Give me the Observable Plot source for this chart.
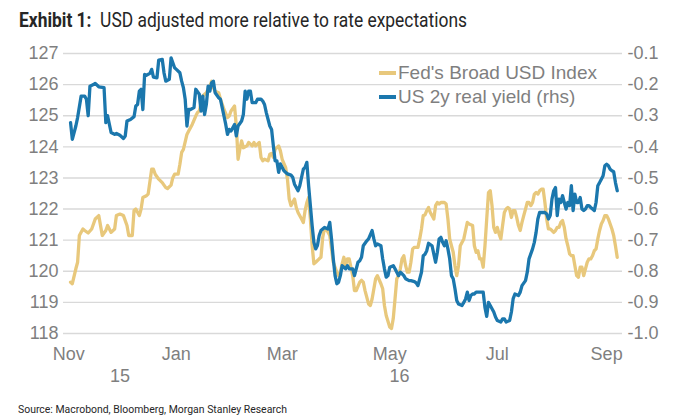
<!DOCTYPE html>
<html><head><meta charset="utf-8">
<script src="https://cdn.jsdelivr.net/npm/d3@7"></script>
<script src="https://cdn.jsdelivr.net/npm/@observablehq/plot@0.6"></script>
<style>
html,body{margin:0;padding:0;background:#fff;}
#wrap{position:relative;width:677px;height:418px;overflow:hidden;font-family:"Liberation Sans",Arial,sans-serif;}
#title{position:absolute;left:19px;top:9px;font-family:Roboto,"Liberation Sans",sans-serif;font-size:19.5px;line-height:24px;color:#262626;white-space:nowrap;transform-origin:0 0;}
#title b{font-weight:700;}
#chart{position:absolute;left:0;top:38px;}
#legend{position:absolute;left:379px;top:61px;font-size:19px;color:#7f7f7f;}
#legend .row{height:24px;line-height:24px;white-space:nowrap;}
#legend .sw{display:inline-block;width:17px;height:4px;vertical-align:middle;margin-right:2px;position:relative;top:-1px;}
#source{position:absolute;left:18px;top:403px;font-family:Roboto,"Liberation Sans",sans-serif;font-size:11px;line-height:13px;color:#262626;white-space:nowrap;transform-origin:0 0;}
</style></head>
<body><div id="wrap">
<div id="title"><b>Exhibit 1:</b>&nbsp; USD adjusted more relative to rate expectations</div>
<div id="chart"></div>
<div id="legend"></div>
<div id="source">Source: Macrobond, Bloomberg, Morgan Stanley Research</div>
</div>
<script>
// Fed's Broad USD Index (left axis)
const fedBroadUSD = [
["2015-11-02",119.65],["2015-11-03",119.6],["2015-11-05",120.08],["2015-11-06",120.29],["2015-11-07",121.15],["2015-11-09",121.36],["2015-11-10",121.31],["2015-11-12",121.23],["2015-11-14",121.36],["2015-11-16",121.68],["2015-11-18",121.79],["2015-11-20",121.15],["2015-11-22",121.31],["2015-11-23",121.47],["2015-11-25",121.25],["2015-11-27",121.36],["2015-11-28",121.79],["2015-11-30",121.84],
["2015-12-02",121.79],["2015-12-04",121.47],["2015-12-05",121.15],["2015-12-07",121.15],["2015-12-08",121.95],["2015-12-09",122.0],["2015-12-11",121.79],["2015-12-12",122.0],["2015-12-13",122.37],["2015-12-15",122.43],["2015-12-16",122.48],["2015-12-18",123.28],["2015-12-19",123.28],["2015-12-20",123.12],["2015-12-22",122.96],["2015-12-24",122.85],["2015-12-26",122.69],["2015-12-27",122.66],["2015-12-29",122.77],["2015-12-30",123.01],["2015-12-31",123.12],
["2016-01-02",123.12],["2016-01-03",123.44],["2016-01-04",123.82],["2016-01-05",123.92],["2016-01-07",124.4],["2016-01-08",124.51],["2016-01-10",124.72],["2016-01-12",124.99],["2016-01-13",125.1],["2016-01-14",125.15],["2016-01-16",125.63],["2016-01-17",125.69],["2016-01-18",125.74],["2016-01-19",125.85],["2016-01-20",125.95],["2016-01-21",126.11],["2016-01-22",125.9],["2016-01-23",125.79],["2016-01-25",125.74],["2016-01-26",125.53],["2016-01-27",125.37],["2016-01-28",125.2],["2016-01-30",124.94],["2016-01-31",124.99],
["2016-02-01",125.15],["2016-02-03",125.31],["2016-02-04",124.67],["2016-02-05",123.6],["2016-02-06",123.92],["2016-02-07",124.19],["2016-02-08",123.97],["2016-02-10",124.03],["2016-02-11",124.14],["2016-02-13",124.03],["2016-02-14",124.14],["2016-02-15",124.03],["2016-02-17",124.14],["2016-02-18",123.66],["2016-02-19",123.55],["2016-02-20",123.6],["2016-02-22",123.55],["2016-02-23",123.76],["2016-02-24",123.79],["2016-02-25",123.66],["2016-02-26",123.92],["2016-02-28",124.03],["2016-02-29",123.87],
["2016-03-01",123.6],["2016-03-03",123.33],["2016-03-04",122.96],["2016-03-05",122.32],["2016-03-06",122.11],["2016-03-08",122.32],["2016-03-09",122.05],["2016-03-10",121.89],["2016-03-12",121.68],["2016-03-13",121.57],["2016-03-14",121.95],["2016-03-15",122.21],["2016-03-16",122.37],["2016-03-17",121.68],["2016-03-18",120.83],["2016-03-19",120.24],["2016-03-20",120.29],["2016-03-22",120.4],["2016-03-23",120.45],["2016-03-24",121.09],["2016-03-25",121.38],["2016-03-26",121.36],["2016-03-28",121.15],["2016-03-29",120.72],["2016-03-30",120.29],
["2016-04-01",119.97],["2016-04-02",119.86],["2016-04-03",119.97],["2016-04-04",120.24],["2016-04-05",120.45],["2016-04-06",120.18],["2016-04-07",120.4],["2016-04-08",120.4],["2016-04-10",119.86],["2016-04-11",119.38],["2016-04-12",119.38],["2016-04-14",119.65],["2016-04-15",119.71],["2016-04-16",119.65],["2016-04-17",119.38],["2016-04-19",118.95],["2016-04-20",118.9],["2016-04-21",119.11],["2016-04-23",119.76],["2016-04-24",119.86],["2016-04-26",119.6],["2016-04-27",119.44],["2016-04-28",118.9],["2016-04-29",118.58],
["2016-05-01",118.21],["2016-05-02",118.16],["2016-05-03",118.48],["2016-05-04",119.11],["2016-05-05",119.76],["2016-05-06",119.86],["2016-05-07",120.08],["2016-05-08",120.4],["2016-05-09",120.5],["2016-05-10",120.18],["2016-05-11",119.97],["2016-05-12",119.97],["2016-05-13",120.29],["2016-05-14",120.72],["2016-05-15",120.77],["2016-05-17",120.77],["2016-05-18",121.04],["2016-05-19",121.36],["2016-05-20",121.79],["2016-05-21",121.81],["2016-05-22",121.95],["2016-05-23",122.05],["2016-05-24",121.89],["2016-05-25",121.79],["2016-05-26",121.68],["2016-05-27",122.11],["2016-05-28",122.21],["2016-05-29",122.16],["2016-05-30",122.21],
["2016-06-01",122.21],["2016-06-02",122.16],["2016-06-03",121.68],["2016-06-04",121.04],["2016-06-05",120.82],["2016-06-06",120.61],["2016-06-07",120.18],["2016-06-08",119.86],["2016-06-09",120.18],["2016-06-10",120.82],["2016-06-12",121.04],["2016-06-13",121.31],["2016-06-14",121.57],["2016-06-15",121.52],["2016-06-17",121.47],["2016-06-18",120.82],["2016-06-19",120.61],["2016-06-20",120.66],["2016-06-21",120.4],["2016-06-22",120.4],["2016-06-23",120.13],["2016-06-24",120.82],["2016-06-25",121.68],["2016-06-26",122.53],["2016-06-27",122.59],["2016-06-28",122.11],["2016-06-29",121.41],["2016-06-30",121.25],
["2016-07-01",121.41],["2016-07-02",121.2],["2016-07-03",121.04],["2016-07-04",121.47],["2016-07-05",121.89],["2016-07-06",122.0],["2016-07-07",122.05],["2016-07-08",122.0],["2016-07-09",121.73],["2016-07-10",121.95],["2016-07-11",121.95],["2016-07-12",121.73],["2016-07-13",121.47],["2016-07-14",121.31],["2016-07-15",121.57],["2016-07-16",121.79],["2016-07-17",122.0],["2016-07-18",122.21],["2016-07-19",122.21],["2016-07-20",122.11],["2016-07-21",122.21],["2016-07-22",122.48],["2016-07-23",122.53],["2016-07-24",122.48],["2016-07-25",122.59],["2016-07-26",122.64],["2016-07-27",122.64],["2016-07-28",122.21],["2016-07-29",121.68],["2016-07-30",121.36],["2016-07-31",121.36],
["2016-08-01",121.31],["2016-08-02",121.25],["2016-08-03",121.31],["2016-08-04",121.41],["2016-08-05",121.41],["2016-08-06",121.57],["2016-08-07",121.63],["2016-08-08",121.41],["2016-08-09",121.04],["2016-08-10",120.82],["2016-08-11",120.56],["2016-08-12",120.5],["2016-08-13",120.5],["2016-08-14",120.18],["2016-08-15",119.86],["2016-08-16",119.81],["2016-08-17",120.13],["2016-08-18",120.13],["2016-08-19",119.86],["2016-08-20",120.08],["2016-08-21",120.29],["2016-08-22",120.4],["2016-08-23",120.4],["2016-08-24",120.5],["2016-08-25",120.66],["2016-08-26",120.72],["2016-08-27",121.04],["2016-08-28",121.31],["2016-08-29",121.52],["2016-08-30",121.63],["2016-08-31",121.79],
["2016-09-01",121.79],["2016-09-02",121.68],["2016-09-03",121.52],["2016-09-04",121.36],["2016-09-05",121.15],["2016-09-06",120.82],["2016-09-07",120.45]
];

// US 2y real yield (right axis)
const us2yRealYield = [
["2015-11-02",-0.322],["2015-11-03",-0.376],["2015-11-05",-0.333],["2015-11-06",-0.306],["2015-11-08",-0.237],["2015-11-10",-0.237],["2015-11-11",-0.247],["2015-11-12",-0.30],["2015-11-13",-0.205],["2015-11-15",-0.20],["2015-11-16",-0.196],["2015-11-18",-0.207],["2015-11-21",-0.21],["2015-11-22",-0.322],["2015-11-23",-0.30],["2015-11-25",-0.354],["2015-11-27",-0.36],["2015-11-28",-0.357],["2015-11-30",-0.363],
["2015-12-02",-0.373],["2015-12-03",-0.365],["2015-12-04",-0.317],["2015-12-06",-0.312],["2015-12-08",-0.303],["2015-12-09",-0.269],["2015-12-10",-0.264],["2015-12-11",-0.221],["2015-12-12",-0.215],["2015-12-13",-0.28],["2015-12-14",-0.167],["2015-12-15",-0.17],["2015-12-17",-0.164],["2015-12-18",-0.151],["2015-12-19",-0.176],["2015-12-21",-0.178],["2015-12-22",-0.121],["2015-12-24",-0.119],["2015-12-25",-0.162],["2015-12-26",-0.189],["2015-12-28",-0.183],["2015-12-29",-0.114],["2015-12-31",-0.146],
["2016-01-01",-0.151],["2016-01-03",-0.162],["2016-01-04",-0.189],["2016-01-05",-0.21],["2016-01-06",-0.247],["2016-01-07",-0.333],["2016-01-08",-0.28],["2016-01-09",-0.28],["2016-01-11",-0.274],["2016-01-12",-0.215],["2016-01-14",-0.231],["2016-01-15",-0.285],["2016-01-16",-0.237],["2016-01-17",-0.296],["2016-01-18",-0.264],["2016-01-19",-0.205],["2016-01-20",-0.221],["2016-01-21",-0.194],["2016-01-22",-0.189],["2016-01-23",-0.226],["2016-01-25",-0.242],["2016-01-26",-0.247],["2016-01-27",-0.274],["2016-01-28",-0.301],["2016-01-29",-0.328],["2016-01-30",-0.36],["2016-01-31",-0.344],
["2016-02-01",-0.349],["2016-02-03",-0.328],["2016-02-04",-0.365],["2016-02-05",-0.333],["2016-02-07",-0.317],["2016-02-08",-0.296],["2016-02-09",-0.221],["2016-02-10",-0.247],["2016-02-11",-0.221],["2016-02-12",-0.221],["2016-02-13",-0.258],["2016-02-15",-0.258],["2016-02-16",-0.247],["2016-02-18",-0.247],["2016-02-19",-0.253],["2016-02-20",-0.264],["2016-02-21",-0.29],["2016-02-23",-0.333],["2016-02-24",-0.344],["2016-02-25",-0.397],["2016-02-26",-0.445],["2016-02-27",-0.445],["2016-02-28",-0.482],["2016-02-29",-0.455],
["2016-03-02",-0.477],["2016-03-04",-0.487],["2016-03-06",-0.491],["2016-03-07",-0.498],["2016-03-08",-0.52],["2016-03-10",-0.541],["2016-03-11",-0.525],["2016-03-12",-0.498],["2016-03-13",-0.472],["2016-03-14",-0.466],["2016-03-15",-0.45],["2016-03-16",-0.525],["2016-03-17",-0.589],["2016-03-18",-0.653],["2016-03-19",-0.707],["2016-03-20",-0.728],["2016-03-21",-0.717],["2016-03-22",-0.685],["2016-03-23",-0.669],["2016-03-25",-0.659],["2016-03-27",-0.664],["2016-03-28",-0.643],["2016-03-29",-0.696],["2016-03-30",-0.76],["2016-03-31",-0.814],
["2016-04-01",-0.84],["2016-04-02",-0.835],["2016-04-03",-0.814],["2016-04-04",-0.782],["2016-04-06",-0.792],["2016-04-07",-0.782],["2016-04-08",-0.792],["2016-04-10",-0.792],["2016-04-11",-0.814],["2016-04-13",-0.771],["2016-04-14",-0.766],["2016-04-15",-0.755],["2016-04-16",-0.718],["2016-04-18",-0.702],["2016-04-19",-0.696],["2016-04-21",-0.669],["2016-04-22",-0.696],["2016-04-23",-0.718],["2016-04-24",-0.712],["2016-04-26",-0.718],["2016-04-27",-0.76],["2016-04-28",-0.792],["2016-04-29",-0.819],["2016-04-30",-0.814],
["2016-05-01",-0.787],["2016-05-03",-0.782],["2016-05-04",-0.792],["2016-05-05",-0.803],["2016-05-06",-0.814],["2016-05-07",-0.803],["2016-05-08",-0.808],["2016-05-09",-0.814],["2016-05-10",-0.824],["2016-05-12",-0.83],["2016-05-13",-0.83],["2016-05-15",-0.833],["2016-05-16",-0.837],["2016-05-17",-0.846],["2016-05-19",-0.803],["2016-05-20",-0.75],["2016-05-21",-0.745],["2016-05-22",-0.734],["2016-05-23",-0.71],["2016-05-25",-0.718],["2016-05-27",-0.771],["2016-05-28",-0.739],["2016-05-29",-0.696],["2016-05-30",-0.691],["2016-05-31",-0.707],
["2016-06-01",-0.718],["2016-06-02",-0.702],["2016-06-03",-0.728],["2016-06-04",-0.76],["2016-06-05",-0.814],["2016-06-06",-0.824],["2016-06-07",-0.856],["2016-06-08",-0.894],["2016-06-09",-0.905],["2016-06-11",-0.91],["2016-06-12",-0.90],["2016-06-13",-0.889],["2016-06-14",-0.867],["2016-06-15",-0.894],["2016-06-16",-0.878],["2016-06-17",-0.873],["2016-06-18",-0.873],["2016-06-19",-0.867],["2016-06-21",-0.867],["2016-06-22",-0.867],["2016-06-23",-0.867],["2016-06-24",-0.916],["2016-06-25",-0.945],["2016-06-26",-0.90],["2016-06-27",-0.91],["2016-06-29",-0.931],["2016-06-30",-0.947],
["2016-07-01",-0.958],["2016-07-03",-0.963],["2016-07-04",-0.953],["2016-07-05",-0.953],["2016-07-06",-0.963],["2016-07-08",-0.958],["2016-07-09",-0.931],["2016-07-10",-0.888],["2016-07-11",-0.873],["2016-07-13",-0.878],["2016-07-14",-0.867],["2016-07-15",-0.846],["2016-07-17",-0.83],["2016-07-18",-0.803],["2016-07-19",-0.76],["2016-07-21",-0.728],["2016-07-22",-0.707],["2016-07-23",-0.675],["2016-07-24",-0.632],["2016-07-25",-0.611],["2016-07-26",-0.611],["2016-07-28",-0.611],["2016-07-29",-0.616],["2016-07-30",-0.632],["2016-07-31",-0.621],
["2016-08-01",-0.568],["2016-08-02",-0.541],["2016-08-03",-0.531],["2016-08-04",-0.621],["2016-08-05",-0.568],["2016-08-06",-0.579],["2016-08-07",-0.557],["2016-08-08",-0.579],["2016-08-09",-0.60],["2016-08-10",-0.579],["2016-08-11",-0.589],["2016-08-12",-0.525],["2016-08-13",-0.605],["2016-08-14",-0.552],["2016-08-15",-0.579],["2016-08-16",-0.579],["2016-08-17",-0.563],["2016-08-18",-0.60],["2016-08-19",-0.605],["2016-08-20",-0.60],["2016-08-21",-0.589],["2016-08-22",-0.589],["2016-08-23",-0.595],["2016-08-24",-0.60],["2016-08-25",-0.605],["2016-08-26",-0.579],["2016-08-27",-0.525],["2016-08-28",-0.515],["2016-08-29",-0.504],["2016-08-30",-0.493],["2016-08-31",-0.461],
["2016-09-01",-0.456],["2016-09-02",-0.461],["2016-09-03",-0.472],["2016-09-04",-0.477],["2016-09-05",-0.48],["2016-09-06",-0.515],["2016-09-07",-0.541]
];

const seriesNames = ["Fed's Broad USD Index", "US 2y real yield (rhs)"];
const seriesColors = ["#E8C87C", "#1B77AD"];
const monthTicks = ["2015-11-01","2016-01-01","2016-03-01","2016-05-01","2016-07-01","2016-09-01"];
const yearLabels = ["2015","2016"];
const leftTicks = [118,119,120,121,122,123,124,125,126,127];
const rightTicks = [-1.0,-0.9,-0.8,-0.7,-0.6,-0.5,-0.4,-0.3,-0.2,-0.1];
const xDomain = ["2015-10-29","2016-09-10"];
const leftDomain = [118,127];
const rightDomain = [-1.0,-0.1];

// map right-axis values onto the left scale (dual axis)
const toLeft = r => leftDomain[0] + (r - rightDomain[0]) * (leftDomain[1]-leftDomain[0]) / (rightDomain[1]-rightDomain[0]);
const toRight = l => rightDomain[0] + (l - leftDomain[0]) * (rightDomain[1]-rightDomain[0]) / (leftDomain[1]-leftDomain[0]);

const d0 = new Date(xDomain[0]), d1 = new Date(xDomain[1]);
const yearCenters = yearLabels.map(y => {
  const a = Math.max(+d0, Date.UTC(+y,0,1));
  const b = Math.min(+d1, Date.UTC(+y+1,0,1));
  return new Date((a+b)/2);
});

const gray = "#7f7f7f";
const chart = Plot.plot({
  width: 677,
  height: 357,
  marginTop: 15,
  marginBottom: 62,
  marginLeft: 63,
  marginRight: 55,
  style: {fontFamily: '"Liberation Sans", Arial, sans-serif', fontSize: "18px", color: gray, background: "transparent"},
  x: {type: "utc", domain: [d0, d1]},
  y: {domain: leftDomain},
  marks: [
    Plot.gridY(leftTicks, {stroke: "#d9d9d9", strokeOpacity: 1, strokeWidth: 1.4}),
    Plot.axisY(leftTicks, {anchor: "left", tickSize: 0, tickPadding: 5, tickFormat: d => String(d), fontSize: 18}),
    Plot.axisY(rightTicks.map(toLeft), {anchor: "right", tickSize: 0, tickPadding: 5, tickFormat: d => toRight(d).toFixed(1), fontSize: 18}),
    Plot.axisX(monthTicks.map(d => new Date(d)), {anchor: "bottom", tickSize: 0, tickPadding: 14, tickFormat: d3.utcFormat("%b"), fontSize: 18}),
    Plot.axisX(yearCenters, {anchor: "bottom", tickSize: 0, tickPadding: 36, tickFormat: d3.utcFormat("%y"), fontSize: 18}),
    Plot.line(fedBroadUSD, {x: d => new Date(d[0]), y: d => d[1], stroke: seriesColors[0], strokeWidth: 3.3}),
    Plot.line(us2yRealYield, {x: d => new Date(d[0]), y: d => toLeft(d[1]), stroke: seriesColors[1], strokeWidth: 3.3})
  ]
});
document.getElementById("chart").appendChild(chart);

const legend = document.getElementById("legend");
seriesNames.forEach((n, i) => {
  const row = document.createElement("div");
  row.className = "row";
  const sw = document.createElement("span");
  sw.className = "sw";
  sw.style.background = seriesColors[i];
  row.appendChild(sw);
  row.appendChild(document.createTextNode(n));
  legend.appendChild(row);
});

// fit title/source widths to the reference layout
function fit(id, w) {
  const el = document.getElementById(id);
  const cur = el.getBoundingClientRect().width;
  if (cur > 0) el.style.transform = `scaleX(${w / cur})`;
}
fit("title", 448);
fit("source", 269);
</script>
</body></html>
